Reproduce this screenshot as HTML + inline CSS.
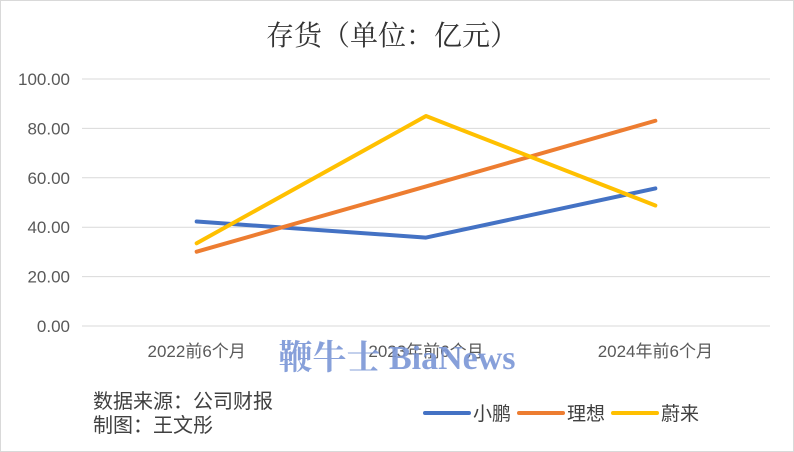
<!DOCTYPE html>
<html><head><meta charset="utf-8"><style>
body{margin:0;background:#fff;}
svg{display:block;font-family:"Liberation Sans","Noto Sans CJK SC",sans-serif;}
</style></head><body>
<svg id="c" width="794" height="452" viewBox="0 0 794 452">
<rect x="0.5" y="0.5" width="793" height="451" fill="#fff" stroke="#d9d9d9"/>
<text x="392" y="45" text-anchor="middle" font-size="28" fill="#333" font-family="'Liberation Serif','Noto Serif CJK SC',serif">存货（单位：亿元）</text>
<g id="grid"></g><g id="series"></g>
<text x="397" y="369" text-anchor="middle" font-size="34" font-weight="bold" fill="#7b96d6" opacity="0.9" font-family="'Liberation Serif','Noto Serif CJK SC',serif">鞭牛士 BiaNews</text>
<text x="93" y="408" font-size="20" fill="#404040">数据来源：公司财报</text>
<text x="93" y="432" font-size="20" fill="#404040">制图：王文彤</text>
<g id="legend"></g>
</svg>
<script>
const categories=["2022前6个月","2023年前6个月","2024年前6个月"];
const seriesNames=["小鹏","理想","蔚来"];
const xiaopeng=[42.3,35.8,55.7];
const lixiang=[30.1,56.5,83.1];
const nio=[33.5,85.0,48.8];
const yTicks=[0,20,40,60,80,100];
const colors=["#4472c4","#ed7d31","#ffc000"];
const NS="http://www.w3.org/2000/svg";
const X0=82,X1=770,Y0=326,Y1=79;
const y=v=>Y0-(v/100)*(Y0-Y1);
const x=i=>X0+(i+0.5)*(X1-X0)/categories.length;
function mk(t,a,p){const e=document.createElementNS(NS,t);for(const k in a)e.setAttribute(k,a[k]);p.appendChild(e);return e;}
const g=document.getElementById('grid');
yTicks.forEach(v=>{
 const l=mk('line',{x1:X0,x2:X1,y1:y(v),y2:y(v),stroke:'#d9d9d9','stroke-width':1},g);
 
 
 const t=mk('text',{x:70,y:y(v)+6,'text-anchor':'end','font-size':17,fill:'#595959'},g);
 t.textContent=v.toFixed(2);
 
 
});
categories.forEach((c,i)=>{
 const t=mk('text',{x:x(i),y:357,'text-anchor':'middle','font-size':17,fill:'#595959'},g);
 t.textContent=c;
 
 
});
const s=document.getElementById('series');
[xiaopeng,lixiang,nio].forEach((d,k)=>{
 const p=mk('polyline',{points:d.map((v,i)=>x(i)+','+y(v)).join(' '),fill:'none',stroke:colors[k],'stroke-width':4,'stroke-linejoin':'round','stroke-linecap':'round'},s);
 
 
});
const lg=document.getElementById('legend');
const lx=[425,519,613];
seriesNames.forEach((n,k)=>{
 const l=mk('line',{x1:lx[k],x2:lx[k]+44,y1:413,y2:413,stroke:colors[k],'stroke-width':4,'stroke-linecap':'round'},lg);
 
 
 const t=mk('text',{x:lx[k]+48,y:420,'font-size':19,fill:'#404040'},lg);
 t.textContent=n;
 
 
});
</script>
</body></html>
